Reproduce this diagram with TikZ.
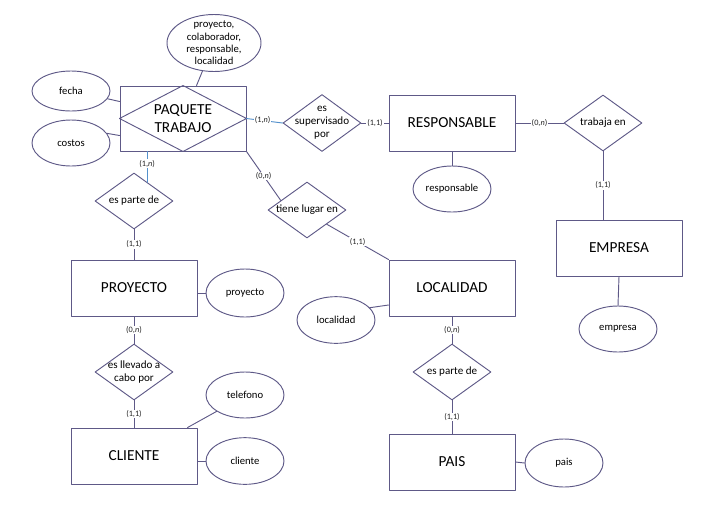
\documentclass[tikz,border=0pt]{standalone}
\usepackage{fontspec}
\setmainfont{Carlito}
\usepackage{tikz}
\usetikzlibrary{shapes.geometric}
\definecolor{slate}{rgb}{0.37,0.35,0.53}
\definecolor{liteblue}{rgb}{0.33,0.57,0.80}

\begin{document}
\begin{tikzpicture}[line cap=round,line join=round,x=0.75pt,y=-0.75pt,
    entity/.style={draw=slate,line width=0.7pt,minimum width=94.5pt,minimum height=42pt,inner sep=0pt,font=\fontsize{11.5}{13.5}\selectfont},
    attr/.style={ellipse,draw=slate,line width=0.7pt,minimum width=58.5pt,minimum height=35pt,inner sep=0pt,font=\fontsize{8}{9.3}\selectfont},
    rel/.style={diamond,draw=slate,line width=0.7pt,minimum width=58.5pt,minimum height=42pt,inner sep=0pt},
    reltext/.style={align=center,inner sep=0pt,font=\fontsize{8.3}{9.8}\selectfont},
    card/.style={fill=white,text=black!85,inner sep=0.6pt,font=\fontsize{6.2}{7}\selectfont},
    link/.style={line width=0.7pt,color=slate},
    bluelink/.style={line width=0.7pt,color=liteblue}]

    \useasboundingbox (0,0) rectangle (725,504);

    \node[entity,minimum height=48.75pt,align=center] (pt) at (183,118.5) {PAQUETE\\TRABAJO};
    \draw[link] (pt.west) -- (pt.north) -- (pt.east) -- (pt.south) -- cycle;

    \node[entity] (resp) at (452,123) {RESPONSABLE};
    \node[entity] (emp) at (619,248) {EMPRESA};
    \node[entity] (loc) at (452,288) {LOCALIDAD};
    \node[entity] (proy) at (134,288) {PROYECTO};
    \node[entity] (cli) at (134,456) {CLIENTE};
    \node[entity] (pais) at (452,462) {PAIS};

    \node[attr,minimum width=70.5pt,minimum height=42.75pt,label={[reltext,font=\fontsize{8}{9.3}\selectfont]center:proyecto,\\colaborador,\\responsable,\\localidad}] (at_list) at (214,43) {};
    \node[attr,minimum height=30pt] (at_fecha) at (71,91) {fecha};
    \node[attr,minimum height=34.5pt] (at_costos) at (71,143) {costos};
    \node[attr,minimum height=34.5pt] (at_resp) at (452,189) {responsable};
    \node[attr,minimum height=34.5pt] (at_emp) at (618,329) {empresa};
    \node[attr] (at_loc) at (336,320) {localidad};
    \node[attr,minimum height=36pt] (at_proy) at (245,293) {proyecto};
    \node[attr,minimum height=34.5pt] (at_tel) at (245,395) {telefono};
    \node[attr] (at_cli) at (245,461) {cliente};
    \node[attr,minimum height=36pt] (at_pais) at (564,463) {pais};

    \node[rel,minimum height=42.75pt,label={[reltext]center:es\\supervisado\\por}] (sup) at (322,123) {};
    \node[rel,label={[reltext]center:trabaja en}] (trab) at (603,123) {};
    \node[rel,label={[reltext]center:tiene lugar en}] (tl) at (307,210) {};
    \node[rel,label={[reltext]center:es parte de}] (pd1) at (134,201) {};
    \node[rel,label={[reltext]center:es llevado a\\cabo por}] (llev) at (134,372) {};
    \node[rel,label={[reltext]center:es parte de}] (pd2) at (452,372) {};

    \draw[link] (at_list) -- (pt);
    \draw[link] (at_fecha.-12) -- (pt.165);
    \draw[link] (at_costos.15) -- (pt.195);
    \draw[link] (resp.south) -- (at_resp.north);
    \draw[link] (emp.south) -- (at_emp.north);
    \draw[link] (at_loc.20) -- (loc.195);
    \draw[link] (at_proy.west) -- (at_proy.west -| proy.east);
    \draw[link] (at_tel.-150) -- (cli.28);
    \draw[link] (at_cli.west) -- (at_cli.west -| cli.east);
    \draw[link] (pais.east) -- (at_pais.west);

    \draw[bluelink] (pt.east) -- node[card,pos=0.45] {(1,\textit{n})} (sup.west);
    \draw[link] (sup.east) -- node[card] {(1,1)} (resp.west);
    \draw[link] (resp.east) -- node[card] {(0,\textit{n})} (trab.west);
    \draw[link] (trab.south) -- node[card] {(1,1)} (trab.south |- emp.north);
    \draw[link] (pt.south east) -- node[card] {(0,\textit{n})} (tl.160);
    \draw[link] (tl.south east) -- node[card] {(1,1)} (loc.north west);
    \draw[bluelink] (pd1.55 |- pt.south) -- node[card,pos=0.4] {(1,\textit{n})} (pd1.55);
    \draw[link] (pd1.south) -- node[card] {(1,1)} (proy.north);
    \draw[link] (proy.south) -- node[card] {(0,\textit{n})} (llev.north);
    \draw[link] (llev.south) -- node[card] {(1,1)} (cli.north);
    \draw[link] (loc.south) -- node[card] {(0,\textit{n})} (pd2.north);
    \draw[link] (pd2.south) -- node[card] {(1,1)} (pais.north);
\end{tikzpicture}
\end{document}
